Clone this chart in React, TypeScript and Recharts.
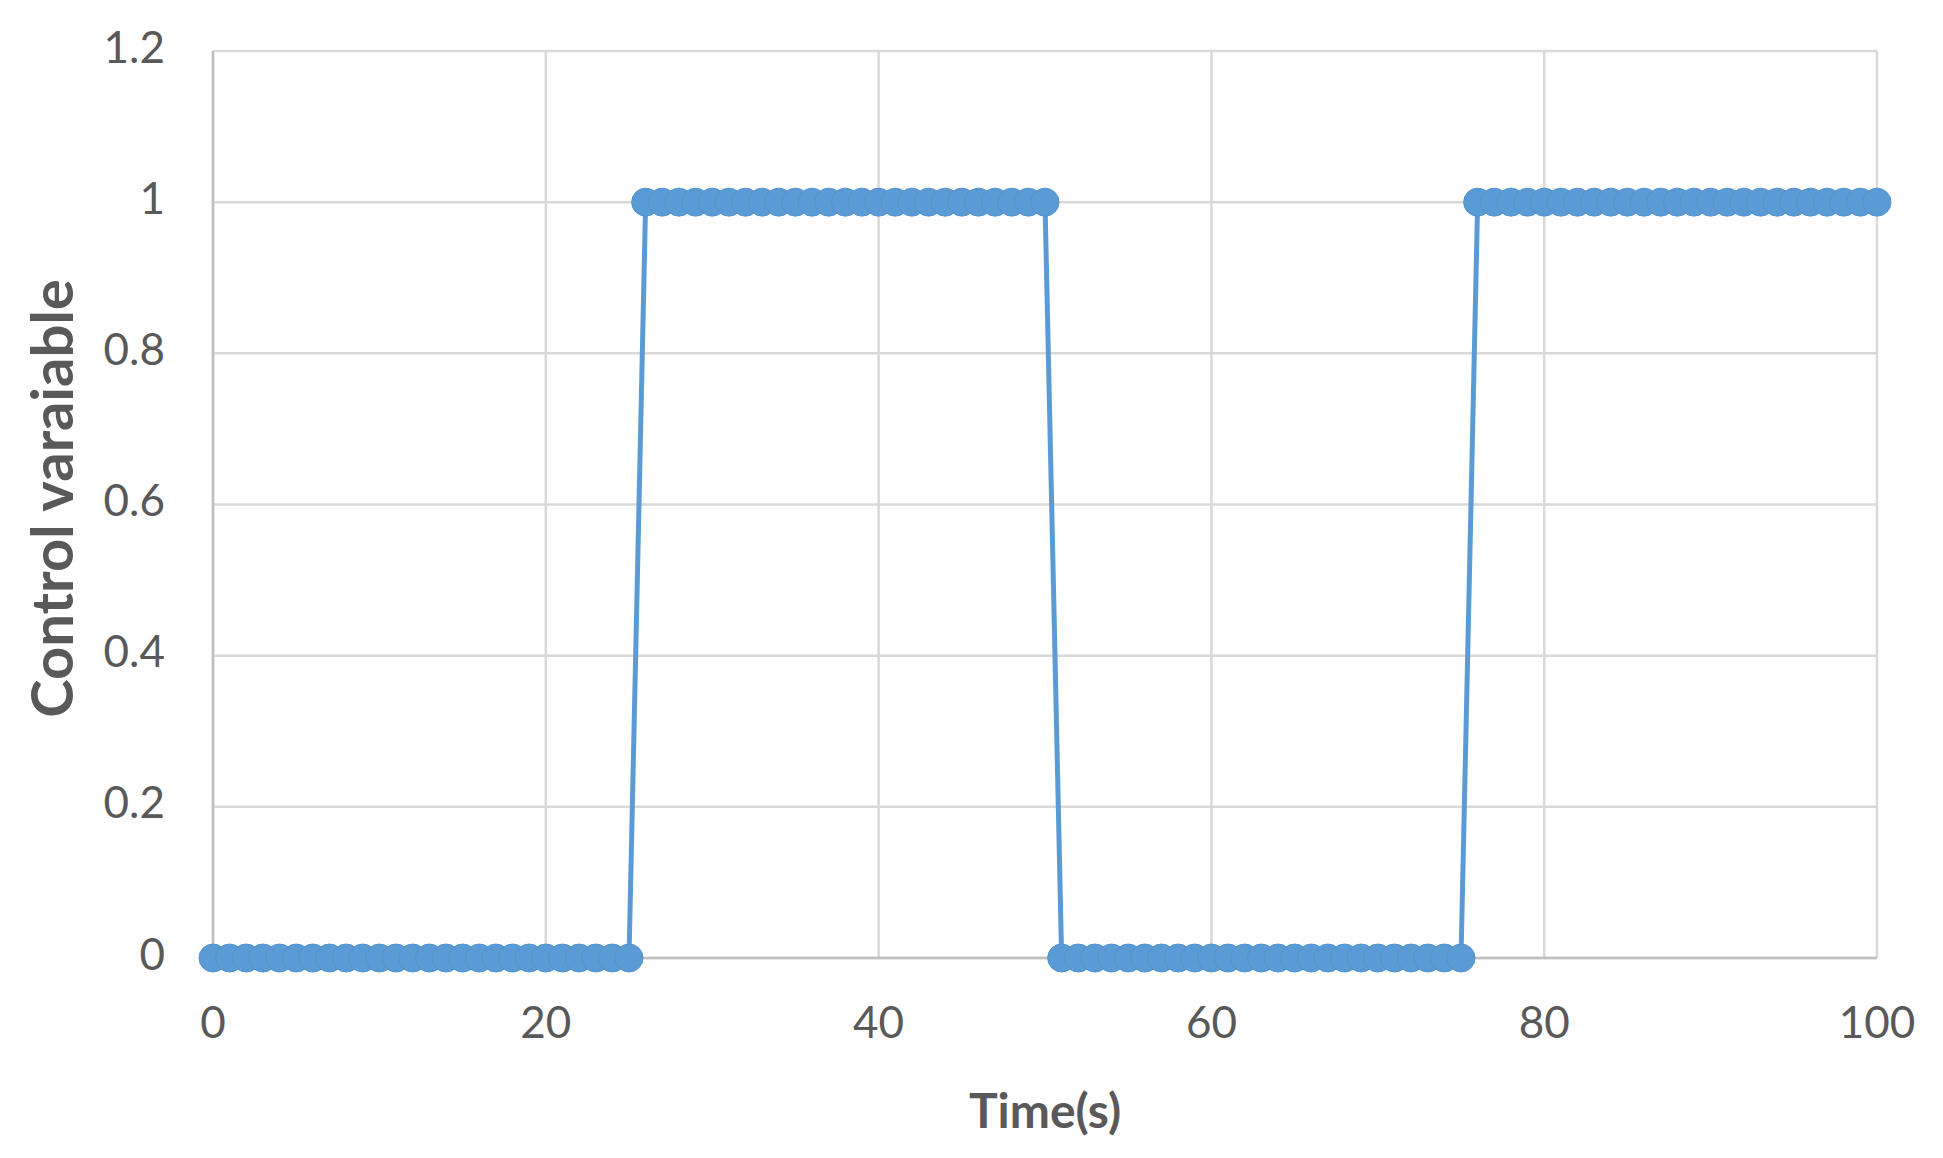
import { LineChart, Line, XAxis, YAxis, CartesianGrid, Label } from 'recharts'

// sampled once per second, 0..100 s
const TIME = [
  0, 1, 2, 3, 4, 5, 6, 7, 8, 9, 10, 11, 12, 13, 14, 15, 16, 17, 18, 19, 20,
  21, 22, 23, 24, 25, 26, 27, 28, 29, 30, 31, 32, 33, 34, 35, 36, 37, 38, 39, 40,
  41, 42, 43, 44, 45, 46, 47, 48, 49, 50, 51, 52, 53, 54, 55, 56, 57, 58, 59, 60,
  61, 62, 63, 64, 65, 66, 67, 68, 69, 70, 71, 72, 73, 74, 75, 76, 77, 78, 79, 80,
  81, 82, 83, 84, 85, 86, 87, 88, 89, 90, 91, 92, 93, 94, 95, 96, 97, 98, 99, 100,
]

const CONTROL = [
  0, 0, 0, 0, 0, 0, 0, 0, 0, 0, 0, 0, 0, 0, 0, 0, 0, 0, 0, 0, 0,
  0, 0, 0, 0, 0, 1, 1, 1, 1, 1, 1, 1, 1, 1, 1, 1, 1, 1, 1, 1,
  1, 1, 1, 1, 1, 1, 1, 1, 1, 1, 0, 0, 0, 0, 0, 0, 0, 0, 0, 0,
  0, 0, 0, 0, 0, 0, 0, 0, 0, 0, 0, 0, 0, 0, 0, 1, 1, 1, 1, 1,
  1, 1, 1, 1, 1, 1, 1, 1, 1, 1, 1, 1, 1, 1, 1, 1, 1, 1, 1, 1,
]

const X_TICKS = [0, 20, 40, 60, 80, 100]
const Y_TICKS = [0, 0.2, 0.4, 0.6, 0.8, 1, 1.2]

const X_TITLE = 'Time(s)'
const Y_TITLE = 'Control varaiable'

const data = TIME.map((t, i) => ({ t, u: CONTROL[i] }))

const BLUE = '#5b9bd5'
const TICK = { fill: '#595959', fontSize: 44, fontFamily: 'Lato, sans-serif' }

export default function App() {
  return (
    <LineChart width={1927} height={1142} data={data}
      margin={{ top: 43, right: 58, bottom: 0, left: 0 }}>
      <CartesianGrid stroke="#d9d9d9" strokeWidth={2.5} />
      <XAxis dataKey="t" type="number" domain={[0, 100]} ticks={X_TICKS}
        tick={TICK} tickLine={false} tickSize={0} tickMargin={49}
        axisLine={{ stroke: '#bfbfbf', strokeWidth: 2.5 }} height={192}>
        <Label content={({ viewBox }: any) => (
          <text x={viewBox.x + viewBox.width / 2} y={1128 - 8} textAnchor="middle"
            fill="#595959" fontSize={48} fontWeight={700} fontFamily="Lato, sans-serif">
            {X_TITLE}
          </text>
        )} />
      </XAxis>
      <YAxis type="number" domain={[0, 1.2]} ticks={Y_TICKS}
        tickFormatter={v => String(Math.round(v * 10) / 10)}
        tick={{ ...TICK, dy: -4 }} tickLine={false} tickSize={0} tickMargin={48}
        axisLine={{ stroke: '#bfbfbf', strokeWidth: 2.5 }} width={205}>
        <Label content={({ viewBox }: any) => {
          const cx = 42
          const cy = viewBox.y + viewBox.height / 2 - 6
          return (
            <text x={cx} y={cy} transform={`rotate(-90 ${cx} ${cy})`} textAnchor="middle"
              dominantBaseline="central" fill="#595959" fontSize={58} fontWeight={700}
              fontFamily="Lato, sans-serif">
              {Y_TITLE}
            </text>
          )
        }} />
      </YAxis>
      <Line type="linear" dataKey="u" stroke={BLUE} strokeWidth={5}
        dot={{ r: 14, fill: BLUE, stroke: '#5592cb', strokeWidth: 1 }}
        isAnimationActive={false} />
    </LineChart>
  )
}
